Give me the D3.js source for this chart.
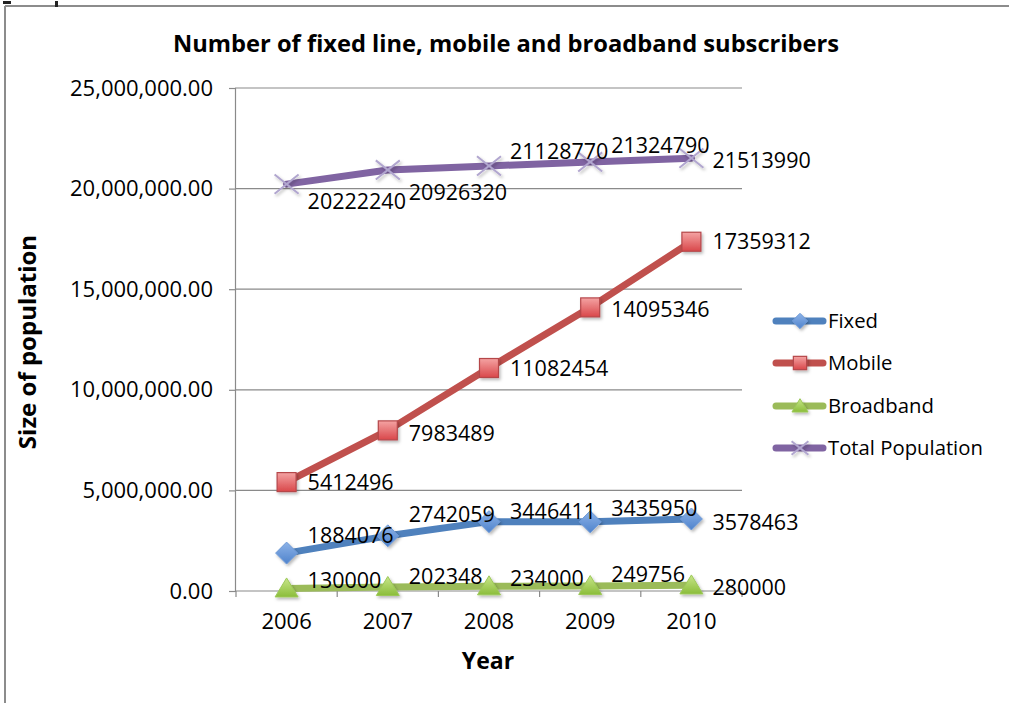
<!DOCTYPE html>
<html><head><meta charset="utf-8">
<script src="https://cdn.jsdelivr.net/npm/d3@7"></script>
<style>
html,body{margin:0;padding:0;background:#fff;}
svg text{font-family:"Open Sans",sans-serif;}
</style></head>
<body>
<svg id="chart" width="1009" height="703"></svg>
<script>
// ---- data ----
const years = ["2006","2007","2008","2009","2010"];
const fixed = [1884076, 2742059, 3446411, 3435950, 3578463];
const mobile = [5412496, 7983489, 11082454, 14095346, 17359312];
const broadband = [130000, 202348, 234000, 249756, 280000];
const totalPopulation = [20222240, 20926320, 21128770, 21324790, 21513990];
const seriesNames = ["Fixed","Mobile","Broadband","Total Population"];
const yTicks = [0, 5000000, 10000000, 15000000, 20000000, 25000000];
// label vertical nudges (layout only)
const labelDy = [
  [-18,-21,-10,-13,3],
  [0,3,0,2,0],
  [-8,-10,-8,-11,2],
  [17,23,-14,-16,2]
];

const seriesValues = [fixed, mobile, broadband, totalPopulation];
const lineColors = ["#4F81BD","#C0504D","#9BBB59","#8064A2"];
const markerTypes = ["diamond","square","triangle","x"];

const svg = d3.select("#chart");
const defs = svg.append("defs");
const f = defs.append("filter").attr("id","sh").attr("x","-50%").attr("y","-50%").attr("width","200%").attr("height","200%");
f.append("feDropShadow").attr("dx",1.5).attr("dy",2).attr("stdDeviation",1.8).attr("flood-color","#000").attr("flood-opacity",0.28);
function grad(id, c1, c2){
  const g = defs.append("linearGradient").attr("id",id).attr("x1",0).attr("y1",0).attr("x2",0).attr("y2",1);
  g.append("stop").attr("offset","0%").attr("stop-color",c1);
  g.append("stop").attr("offset","100%").attr("stop-color",c2);
}
grad("gBlue","#8db3e8","#4f83cc");
grad("gRed","#f4a3a3","#d9474a");
grad("gGreen","#c8e68a","#8bbd3a");

// frame
svg.append("line").attr("x1",5).attr("x2",1009).attr("y1",6).attr("y2",6).attr("stroke","#8c8c8c").attr("stroke-width",2);
svg.append("line").attr("x1",5).attr("x2",5).attr("y1",6).attr("y2",703).attr("stroke","#8c8c8c").attr("stroke-width",2);
svg.append("rect").attr("x",3).attr("y",1).attr("width",8).attr("height",3).attr("fill","#222");
svg.append("rect").attr("x",55).attr("y",1).attr("width",3).attr("height",6).attr("fill","#222");

const x = d3.scaleBand().domain(years).range([236,742]);
const cx = d => x(d) + x.bandwidth()/2;
const y = d3.scaleLinear().domain([0,25000000]).range([591,88]);

// gridlines
svg.append("g").selectAll("line").data(yTicks.filter(t=>t>0)).join("line")
  .attr("x1",235).attr("x2",742).attr("y1",d=>y(d)).attr("y2",d=>y(d))
  .attr("stroke","#8a8a8a").attr("stroke-width",1.2);

// y axis
const yAxis = svg.append("g").attr("transform","translate(235,0)")
  .call(d3.axisLeft(y).tickValues(yTicks).tickSize(6).tickPadding(16).tickFormat(d3.format(",.2f")));
yAxis.select(".domain").attr("stroke","#8a8a8a").attr("stroke-width",1.2);
yAxis.selectAll(".tick line").attr("stroke","#8a8a8a").attr("stroke-width",1.2);
yAxis.selectAll("text").attr("font-size",22).attr("fill","#000").attr("font-family","'Open Sans',sans-serif");

// x axis
const xAxis = svg.append("g").attr("transform","translate(0,591)")
  .call(d3.axisBottom(x).tickSize(0).tickPadding(22));
xAxis.select(".domain").remove();
xAxis.append("line").attr("x1",235).attr("x2",742).attr("stroke","#8a8a8a").attr("stroke-width",1.2);
const bounds = years.map(d=>x(d)).concat([x(years[years.length-1])+x.bandwidth()]);
xAxis.selectAll(".bt").data(bounds).join("line").attr("class","bt")
  .attr("x1",d=>d).attr("x2",d=>d).attr("y1",0).attr("y2",6).attr("stroke","#8a8a8a").attr("stroke-width",1.2);
xAxis.selectAll(".tick text").attr("font-size",22).attr("fill","#000").attr("font-family","'Open Sans',sans-serif");

// lines
const line = d3.line().x((d,i)=>cx(years[i])).y(d=>y(d));
seriesValues.forEach((vals,s)=>{
  svg.append("path").datum(vals).attr("d",line).attr("fill","none")
    .attr("stroke",lineColors[s]).attr("stroke-width",7).attr("stroke-linecap","round").attr("stroke-linejoin","round");
});

function drawMarker(g, type, px, py, scale){
  const k = scale || 1;
  if(type==="diamond"){
    const r = 11*k;
    g.append("path").attr("d",`M${px},${py-r}L${px+r},${py}L${px},${py+r}L${px-r},${py}Z`)
      .attr("fill","url(#gBlue)").attr("stroke","#6f9ad6").attr("stroke-width",1).attr("filter","url(#sh)");
  } else if(type==="square"){
    const r = 9.5*k;
    g.append("rect").attr("x",px-r).attr("y",py-r).attr("width",2*r).attr("height",2*r)
      .attr("fill","url(#gRed)").attr("stroke","#b5474a").attr("stroke-width",1.2).attr("filter","url(#sh)");
  } else if(type==="triangle"){
    const w = 11.5*k, h = 19*k;
    g.append("path").attr("d",`M${px},${py-h*0.55}L${px+w},${py+h*0.45}L${px-w},${py+h*0.45}Z`)
      .attr("fill","url(#gGreen)").attr("stroke","#9cc858").attr("stroke-width",1).attr("filter","url(#sh)");
  } else {
    const r = 12*k;
    g.append("path").attr("d",`M${px-r},${py-r*0.8}L${px+r},${py+r*0.8}M${px-r},${py+r*0.8}L${px+r},${py-r*0.8}`)
      .attr("stroke","#b1a6cf").attr("stroke-width",2).attr("fill","none").attr("filter","url(#sh)");
  }
}

// markers and labels
seriesValues.forEach((vals,s)=>{
  const g = svg.append("g");
  vals.forEach((v,i)=> drawMarker(g, markerTypes[s], cx(years[i]), y(v)));
});
seriesValues.forEach((vals,s)=>{
  svg.append("g").selectAll("text").data(vals).join("text")
    .attr("x",(d,i)=>cx(years[i])+21)
    .attr("y",(d,i)=>y(d)+labelDy[s][i])
    .attr("dy","0.35em").attr("font-size",21.5).attr("fill","#000")
    .text(d=>d);
});

// legend
const legY = [321,363,406,448];
seriesNames.forEach((name,s)=>{
  const g = svg.append("g");
  g.append("line").attr("x1",776).attr("x2",823).attr("y1",legY[s]).attr("y2",legY[s])
    .attr("stroke",lineColors[s]).attr("stroke-width",7).attr("stroke-linecap","round");
  drawMarker(g, markerTypes[s], 800, legY[s], 0.7);
  g.append("text").attr("x",828).attr("y",legY[s]).attr("dy","0.35em").attr("font-size",20.3).attr("fill","#000").text(name);
});

// titles
svg.append("text").attr("x",506).attr("y",52).attr("text-anchor","middle")
  .attr("font-size",23.7).attr("font-weight","bold").attr("fill","#000")
  .text("Number of fixed line, mobile and broadband subscribers");
svg.append("text").attr("transform","translate(36,342) rotate(-90)").attr("text-anchor","middle")
  .attr("font-size",24).attr("font-weight","bold").attr("fill","#000").text("Size of population");
svg.append("text").attr("x",488).attr("y",669).attr("text-anchor","middle")
  .attr("font-size",23).attr("font-weight","bold").attr("fill","#000").text("Year");
</script>
</body></html>
